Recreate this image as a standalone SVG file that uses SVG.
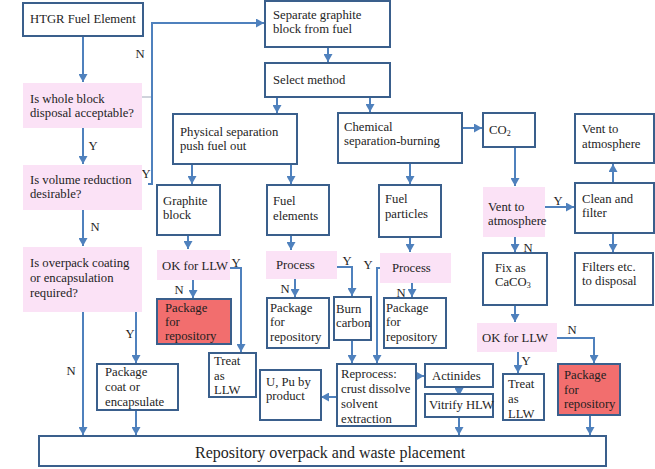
<svg xmlns="http://www.w3.org/2000/svg" width="655" height="469" viewBox="0 0 655 469" font-family="'Liberation Serif', 'DejaVu Serif', serif">
  <defs>
    <marker id="arrow" markerUnits="userSpaceOnUse" markerWidth="9" markerHeight="9" refX="8" refY="4.5" orient="auto">
      <path d="M0,0 L8,4.5 L0,9 z" fill="#4f81bd"/>
    </marker>
    <style>
      .box { fill: #ffffff; stroke: #3a5f8c; stroke-width: 2; }
      .red { fill: #f26e6e; stroke: #3a5f8c; stroke-width: 2; }
      .q { fill: #fbe2f6; stroke: none; }
      .c { fill: none; stroke: #4f81bd; stroke-width: 2; }
      .a { marker-end: url(#arrow); }
      .thin { fill: none; stroke: #a0a8b8; stroke-width: 1; }
      text { font-family: 'Liberation Serif', 'DejaVu Serif', serif; font-size: 12.7px; fill: #1e1e1e; }
      .lbl { text-anchor: middle; }
      .big { font-size: 16px; }
    </style>
  </defs>

  <rect width="655" height="469" fill="#ffffff"/>

  <!-- connectors -->
  <g id="connectors">
    <path class="c a" d="M83,36 V82"/>
    <path class="c a" d="M83,128 V164"/>
    <path class="c a" d="M83,210 V246"/>
    <path class="c a" d="M83,312 V435"/>
    <path class="c a" d="M136,312 V363"/>
    <path class="c a" d="M136,410 V435"/>
    <path class="thin" d="M142,97 H152"/>
    <path class="c a" d="M148,184 H152 V23 H264"/>
    <path class="c a" d="M328,47 V62"/>
    <path class="c a" d="M277,97 V113"/>
    <path class="c a" d="M370,97 V112"/>
    <path class="c a" d="M192,164 V184"/>
    <path class="c a" d="M291,164 V184"/>
    <path class="c a" d="M410,163 V184"/>
    <path class="c a" d="M462,128 H482"/>
    <path class="c a" d="M515,147 V186"/>
    <path class="c a" d="M545,207 H574"/>
    <path class="c a" d="M613,183 V164"/>
    <path class="c a" d="M613,233 V252"/>
    <path class="c a" d="M515,237 V252"/>
    <path class="c a" d="M515,305 V322"/>
    <path class="c a" d="M518,352 V373"/>
    <path class="c a" d="M557,338 H594 V363"/>
    <path class="c a" d="M590,415 V435"/>
    <path class="c a" d="M188,235 V249"/>
    <path class="c a" d="M193,280 V298"/>
    <path class="c a" d="M230,268 H241 V352"/>
    <path class="c a" d="M291,235 V250"/>
    <path class="c a" d="M295,279 V297"/>
    <path class="c a" d="M337,267 H352 V296"/>
    <path class="c a" d="M381,268 H377 V363"/>
    <path class="c a" d="M410,237 V252"/>
    <path class="c a" d="M412,283 V297"/>
    <path class="c a" d="M352,340 V363"/>
    <path class="c a" d="M337,397 H321"/>
    <path class="c a" d="M416,376 H424"/>
    <path class="c a" d="M459,387 V396"/>
    <path class="c a" d="M459,417 V435"/>

    <!-- branch labels -->
    <text class="lbl" x="140" y="58">N</text>
    <text class="lbl" x="93" y="150">Y</text>
    <text class="lbl" x="146" y="178">Y</text>
    <text class="lbl" x="95" y="231">N</text>
    <text class="lbl" x="130" y="338">Y</text>
    <text class="lbl" x="71" y="375">N</text>
    <text class="lbl" x="236" y="267">Y</text>
    <text class="lbl" x="179" y="294">N</text>
    <text class="lbl" x="285" y="293">N</text>
    <text class="lbl" x="347" y="265">Y</text>
    <text class="lbl" x="368" y="269">Y</text>
    <text class="lbl" x="401" y="297">N</text>
    <text class="lbl" x="558" y="205">Y</text>
    <text class="lbl" x="528" y="252">N</text>
    <text class="lbl" x="526" y="365">Y</text>
    <text class="lbl" x="572" y="334">N</text>
  </g>

  <!-- left column: decisions -->
  <g id="htgr"><rect class="box" x="23" y="3" width="120" height="33"/><text x="30" y="23">HTGR Fuel Element</text></g>
  <g id="q-whole"><rect class="q" x="23" y="83" width="119" height="45"/><text x="30" y="103">Is whole block</text><text x="30" y="117">disposal acceptable?</text></g>
  <g id="q-volume"><rect class="q" x="23" y="165" width="119" height="45"/><text x="30" y="184">Is volume reduction</text><text x="30" y="198">desirable?</text></g>
  <g id="q-overpack"><rect class="q" x="23" y="247" width="119" height="65"/><text x="30" y="267">Is overpack coating</text><text x="30" y="282">or encapsulation</text><text x="30" y="297">required?</text></g>
  <g id="pkg-coat"><rect class="box" x="97" y="364" width="81" height="46"/><text x="105" y="376">Package</text><text x="105" y="391">coat or</text><text x="105" y="406">encapsulate</text></g>

  <!-- separation -->
  <g id="separate"><rect class="box" x="265" y="1" width="125" height="46"/><text x="273" y="19">Separate graphite</text><text x="273" y="33">block from fuel</text></g>
  <g id="select"><rect class="box" x="265" y="63" width="125" height="34"/><text x="273" y="84">Select method</text></g>
  <g id="physical"><rect class="box" x="173" y="114" width="124" height="50"/><text x="180" y="136">Physical separation</text><text x="180" y="150">push fuel out</text></g>
  <g id="chemical"><rect class="box" x="338" y="113" width="124" height="50"/><text x="344" y="131">Chemical</text><text x="344" y="145">separation-burning</text></g>

  <!-- gas handling -->
  <g id="co2"><rect class="box" x="483" y="113" width="52" height="34"/><text x="489" y="134">CO<tspan font-size="8" dy="2">2</tspan></text></g>
  <g id="vent-top"><rect class="box" x="575" y="114" width="79" height="49"/><text x="582" y="133">Vent to</text><text x="582" y="148">atmosphere</text></g>
  <g id="clean"><rect class="box" x="575" y="183" width="79" height="50"/><text x="582" y="203">Clean and</text><text x="582" y="217">filter</text></g>
  <g id="filters"><rect class="box" x="575" y="253" width="78" height="52"/><text x="582" y="271">Filters etc.</text><text x="582" y="285">to disposal</text></g>
  <g id="q-vent"><rect class="q" x="483" y="187" width="62" height="50"/><text x="488" y="211">Vent to</text><text x="488" y="225">atmosphere</text></g>
  <g id="fix"><rect class="box" x="483" y="253" width="64" height="52"/><text x="495" y="272">Fix as</text><text x="495" y="286">CaCO<tspan font-size="8" dy="2">3</tspan></text></g>
  <g id="q-ok-right"><rect class="q" x="477" y="323" width="80" height="29"/><text x="482" y="342">OK for LLW</text></g>
  <g id="treat-right"><rect class="box" x="503" y="374" width="41" height="46"/><text x="508" y="388">Treat</text><text x="508" y="403">as</text><text x="508" y="418">LLW</text></g>
  <g id="pkg-red-right"><rect class="red" x="558" y="364" width="62" height="51"/><text x="564" y="379">Package</text><text x="564" y="394">for</text><text x="564" y="408">repository</text></g>

  <!-- physical branch -->
  <g id="graphite"><rect class="box" x="157" y="185" width="63" height="50"/><text x="163" y="205">Graphite</text><text x="163" y="219">block</text></g>
  <g id="fuel-elements"><rect class="box" x="267" y="185" width="62" height="50"/><text x="273" y="205">Fuel</text><text x="273" y="220">elements</text></g>
  <g id="q-ok-left"><rect class="q" x="157" y="250" width="73" height="30"/><text x="162" y="270">OK for LLW</text></g>
  <g id="pkg-red-left"><rect class="red" x="157" y="299" width="74" height="45"/><text x="165" y="312">Package</text><text x="165" y="326">for</text><text x="165" y="340">repository</text></g>
  <g id="treat-left"><rect class="box" x="209" y="353" width="47" height="44"/><text x="214" y="365">Treat</text><text x="214" y="380">as</text><text x="214" y="394">LLW</text></g>
  <g id="q-process-left"><rect class="q" x="266" y="251" width="71" height="28"/><text x="276" y="269">Process</text></g>
  <g id="pkg-mid"><rect class="box" x="267" y="298" width="62" height="50"/><text x="270" y="312">Package</text><text x="270" y="326">for</text><text x="270" y="341">repository</text></g>
  <g id="burn"><rect class="box" x="334" y="297" width="37" height="43"/><text x="336" y="313">Burn</text><text x="336" y="327">carbon</text></g>

  <!-- chemical branch -->
  <g id="fuel-particles"><rect class="box" x="379" y="185" width="62" height="52"/><text x="385" y="203">Fuel</text><text x="385" y="218">particles</text></g>
  <g id="q-process-right"><rect class="q" x="380" y="253" width="71" height="30"/><text x="392" y="272">Process</text></g>
  <g id="pkg-mid2"><rect class="box" x="384" y="298" width="62" height="50"/><text x="386" y="312">Package</text><text x="386" y="326">for</text><text x="386" y="341">repository</text></g>
  <g id="reprocess"><rect class="box" x="337" y="364" width="79" height="62"/><text x="341" y="378">Reprocess:</text><text x="341" y="393">crust dissolve</text><text x="341" y="408">solvent</text><text x="341" y="423">extraction</text></g>
  <g id="upu"><rect class="box" x="260" y="370" width="61" height="50"/><text x="266" y="386">U, Pu by</text><text x="266" y="400">product</text></g>
  <g id="actinides"><rect class="box" x="425" y="364" width="68" height="23"/><text x="432" y="380">Actinides</text></g>
  <g id="vitrify"><rect class="box" x="425" y="394" width="68" height="23"/><text x="429" y="409">Vitrify HLW</text></g>

  <!-- final placement -->
  <g id="repository"><rect class="box" x="39" y="436" width="567" height="30"/><text class="big" x="195" y="458">Repository overpack and waste placement</text></g>
</svg>
